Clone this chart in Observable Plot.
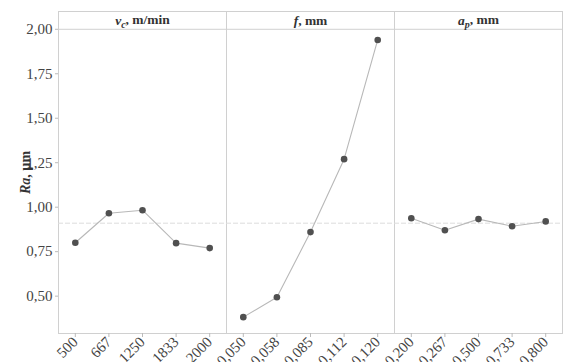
<!DOCTYPE html>
<html>
<head>
<meta charset="utf-8">
<script src="https://cdn.jsdelivr.net/npm/d3@7"></script>
<script src="https://cdn.jsdelivr.net/npm/@observablehq/plot@0.6"></script>
<style>
  html, body { margin: 0; padding: 0; background: #fff; }
  #chart svg { font-family: "Liberation Serif", "DejaVu Serif", serif; }
</style>
</head>
<body>
<div id="chart"></div>
<script>
// ---- data ----
const factorNames = ["vc, m/min", "f, mm", "ap, mm"];
const vcLevels = ["500", "667", "1250", "1833", "2000"];
const vcRa = [0.80, 0.966, 0.983, 0.798, 0.77];
const fLevels = ["0,050", "0,058", "0,085", "0,112", "0,120"];
const fRa = [0.382, 0.494, 0.86, 1.27, 1.94];
const apLevels = ["0,200", "0,267", "0,500", "0,733", "0,800"];
const apRa = [0.938, 0.87, 0.933, 0.893, 0.92];
const meanRa = 0.91;
const yTicks = [0.50, 0.75, 1.00, 1.25, 1.50, 1.75, 2.00];
const yMin = 0.29, yTop = 2.00, yHeader = 2.10;
const yLabel = "Ra, µm";

// ---- build table ----
const groups = [
  {name: factorNames[0], levels: vcLevels, ra: vcRa},
  {name: factorNames[1], levels: fLevels, ra: fRa},
  {name: factorNames[2], levels: apLevels, ra: apRa}
];
const rows = [];
const tickLabels = [];
const separators = [];
const headers = [];
let idx = 0;
groups.forEach((g, gi) => {
  const start = idx;
  g.levels.forEach((lv, i) => {
    rows.push({factor: g.name, idx, level: lv, ra: g.ra[i]});
    tickLabels.push(lv);
    idx++;
  });
  headers.push({name: g.name, x: (start + idx - 1) / 2});
  if (gi < groups.length - 1) separators.push(idx - 0.5);
});
const fmt = v => d3.format(".2f")(v).replace(".", ",");

const chart = Plot.plot({
  width: 563,
  height: 362,
  marginLeft: 58,
  marginRight: 1,
  marginTop: 11,
  marginBottom: 29,
  style: {fontFamily: "Liberation Serif, serif", fontSize: "14px", color: "#444", background: "#fff"},
  x: {type: "linear", domain: [-0.5, idx - 0.5]},
  y: {domain: [yMin, yHeader]},
  marks: [
    Plot.frame({stroke: "#d0d0d0"}),
    Plot.ruleY([yTop], {stroke: "#d0d0d0"}),
    Plot.ruleX(separators, {stroke: "#d0d0d0"}),
    Plot.ruleY([meanRa], {stroke: "#dcdcdc", strokeDasharray: "5,2"}),
    Plot.line(rows, {x: "idx", y: "ra", z: "factor", stroke: "#b8b8b8", strokeWidth: 1.1}),
    Plot.dot(rows, {x: "idx", y: "ra", r: 3.3, fill: "#505050"}),
    Plot.text(headers, {x: "x", y: (yTop + yHeader) / 2, text: "name", fontWeight: "bold", fontSize: 13.5, fill: "#333", className: "hdr"}),
    Plot.axisY(yTicks, {tickFormat: fmt, tickSize: 3, tickPadding: 3, fontSize: 15, stroke: "#bbb", label: yLabel, labelAnchor: "center", labelArrow: "none", labelOffset: 38}),
    Plot.axisX(d3.range(idx), {tickFormat: i => tickLabels[i], tickRotate: -45, tickSize: 4, tickPadding: 2, fontSize: 15, stroke: "#bbb", label: null})
  ]
});
document.getElementById("chart").appendChild(chart);

// rich text: italic symbols / subscripts
const svg = d3.select(chart);
svg.selectAll("g.hdr text").each(function() {
  const t = d3.select(this);
  const s = t.text();
  const m = s.match(/^([a-z])([a-z]?)(, .*)$/);
  if (!m) return;
  t.text(null);
  t.append("tspan").attr("font-style", "italic").text(m[1]);
  if (m[2]) t.append("tspan").attr("font-style", "italic").attr("font-size", 10).attr("dy", "0.3em").text(m[2]);
  t.append("tspan").attr("dy", m[2] ? "-0.3em" : null).text(m[3]);
});
svg.selectAll("text").filter(function() { return this.textContent === yLabel; }).each(function() {
  const t = d3.select(this);
  t.selectAll("*").remove();
  t.text(null).attr("font-weight", "bold").attr("font-size", 14).attr("fill", "#333");
  t.append("tspan").attr("font-style", "italic").text("Ra");
  t.append("tspan").text(", µm");
});
</script>
</body>
</html>
